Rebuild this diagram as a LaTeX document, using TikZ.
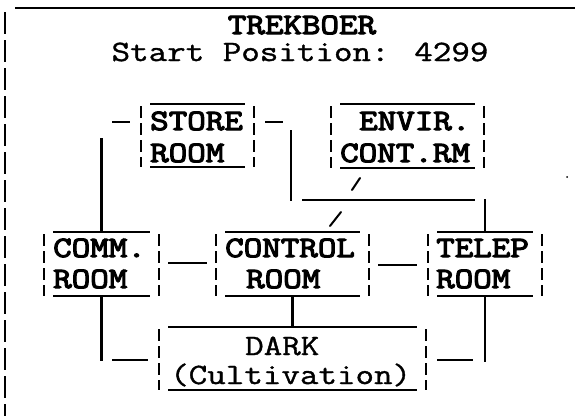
\documentclass[tikz,border=0pt]{standalone}
\usepackage{fontspec}
\newfontfamily\rfont{Latin Modern Mono}[FakeStretch=1.22,FakeBold=4]
\newfontfamily\pfont{Latin Modern Mono}[FakeStretch=1.22,FakeBold=1.2]
\begin{document}
\begin{tikzpicture}[x=1pt,y=-1pt,
  roomframe/.style={inner sep=0pt,outer sep=0pt,draw=none},
  edge/.style={line width=1.3pt},
  side/.style={line width=1.4pt,dash pattern=on 12pt off 5pt},
  conn/.style={line width=2.3pt},
  dashc/.style={line width=1.8pt},
  roomtxt/.style={inner sep=0pt,anchor=base west,font=\rfont\fontsize{29.5}{32}\selectfont},
  plaintxt/.style={inner sep=0pt,anchor=base west,font=\pfont\fontsize{29.5}{32}\selectfont},
  outer/.style={line width=1.5pt}]
\useasboundingbox (0,0) rectangle (575,416);

% room frames: name, x1, x2, ytop, ybot
\newcommand\roomframe[5]{%
  \node[roomframe,minimum width=#3-#2,minimum height=#5-#4] (#1) at ({(#2+#3)/2},{(#4+#5)/2}) {};
  \draw[edge] (#1.north west) -- (#1.north east);
  \draw[edge] (#1.south west) -- (#1.south east);
  \draw[side] ([xshift=-9pt,yshift=-2pt]#1.north west) -- ([xshift=-9pt]#1.south west);
  \draw[side] ([xshift=9pt,yshift=-2pt]#1.north east) -- ([xshift=9pt]#1.south east);
}

% outer frame
\coordinate (oTL) at (15,8);
\coordinate (oTR) at (575,8);
\coordinate (oL1) at (5,12);
\coordinate (oL2) at (5,416);
\draw[outer] (oTL) -- (oTR);
\draw[outer,dash pattern=on 22pt off 6pt] (oL1) -- (oL2);

% title
\node[inner sep=0pt,anchor=base,font=\rfont\fontsize{29.5}{32}\selectfont] (title) at (302,34) {TREKBOER};
\node[inner sep=0pt,anchor=base,font=\pfont\fontsize{29.5}{32}\selectfont] (start) at (300,61) {Start Position: 4299};

% rooms
\roomframe{store}{150}{245}{104}{167}
\roomframe{envir}{340}{475}{104}{168}
\roomframe{comm}{53}{150}{232}{296}
\roomframe{control}{225}{360}{232}{296}
\roomframe{telep}{437}{533}{232}{296}
\roomframe{dark}{168}{417}{327}{390}

\node[roomtxt] (store1) at (150,130) {STORE};
\node[roomtxt] (store2) at (150,162) {ROOM};
\node[roomtxt] (envir1) at (359,130) {ENVIR.};
\node[roomtxt] (envir2) at (340,162) {CONT.RM};
\node[roomtxt] (comm1) at (53,257) {COMM.};
\node[roomtxt] (comm2) at (53,288) {ROOM};
\node[roomtxt] (control1) at (225,257) {CONTROL};
\node[roomtxt] (control2) at (246,288) {ROOM};
\node[roomtxt] (telep1) at (436,257) {TELEP};
\node[roomtxt] (telep2) at (436,288) {ROOM};
\node[plaintxt] (dark1) at (245,355) {DARK};
\node[plaintxt] (dark2) at (170,384) {(Cultivation)};

% connector points
\coordinate (cA) at (101.5,138);
\coordinate (sL1) at (112,122);
\coordinate (sL2) at (130,122);
\coordinate (sR1) at (265,122);
\coordinate (sR2) at (283,122);
\coordinate (vS1) at (291,130);
\coordinate (vS2) at (291,201);
\coordinate (h1) at (302,200);
\coordinate (h2) at (475,200);
\coordinate (cB) at (485,199);
\coordinate (m1) at (168,263);
\coordinate (m2) at (207,263);
\coordinate (m3) at (378,265);
\coordinate (m4) at (417,265);
\coordinate (dL) at (101.5,361);
\coordinate (dl1) at (112,360);
\coordinate (dl2) at (148,360);
\coordinate (dR) at (485,362);
\coordinate (dr1) at (437,360);
\coordinate (dr2) at (473,360);
\coordinate (q1a) at (352,190);
\coordinate (q1b) at (360,178);
\coordinate (q2a) at (330,226);
\coordinate (q2b) at (341,212);
\coordinate (speck) at (567,177);

% connectors
\draw[conn] (comm.north) -- (cA);
\draw[dashc] (sL1) -- (sL2);
\draw[dashc] (sR1) -- (sR2);
\draw[conn] (vS1) -- (vS2);
\draw[dashc] (h1) -- (h2);
\draw[conn] (telep.north) -- (cB);
\draw[dashc] (m1) -- (m2);
\draw[dashc] (m3) -- (m4);
\draw[conn] (comm.south) -- (dL);
\draw[dashc] (dl1) -- (dl2);
\draw[conn] (control.south) -- (dark.north);
\draw[conn] (telep.south) -- (dR);
\draw[dashc] (dr1) -- (dr2);
\draw[line width=2pt,line cap=round] (q1a) -- (q1b);
\draw[line width=2pt,line cap=round] (q2a) -- (q2b);
\fill (speck) circle (1pt);
\end{tikzpicture}
\end{document}
